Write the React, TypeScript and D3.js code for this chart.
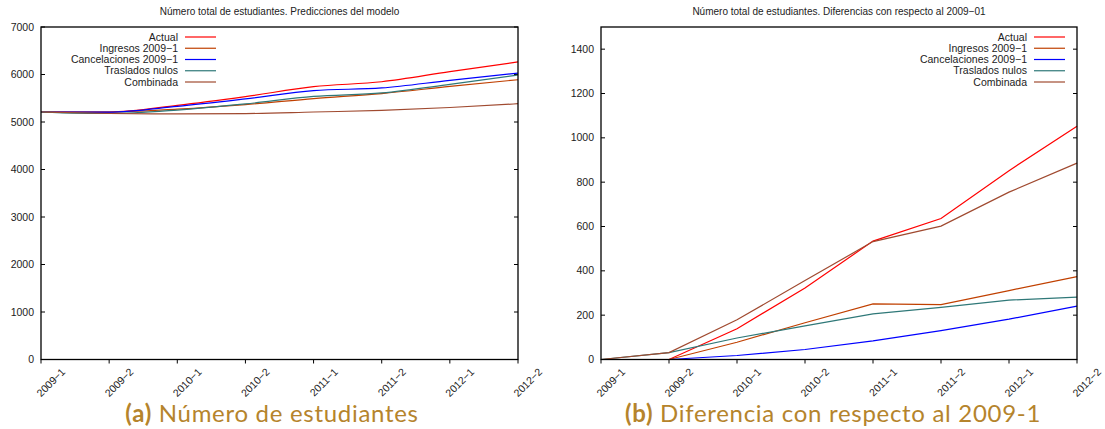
import * as d3 from "d3";
import { useEffect, useRef } from "react";

// categories (x axis)
const periods = ["2009−1", "2009−2", "2010−1", "2010−2", "2011−1", "2011−2", "2012−1", "2012−2"];

// (a) total students
const totActual = [5210, 5210, 5349, 5533, 5744, 5847, 6060, 6264];
const totIngresos = [5210, 5210, 5271, 5367, 5493, 5599, 5749, 5890];
const totCancel = [5210, 5210, 5331, 5488, 5660, 5717, 5878, 6030];
const totTraslados = [5210, 5179, 5252, 5381, 5538, 5612, 5792, 5990];
const totCombinada = [5210, 5179, 5170, 5177, 5210, 5245, 5305, 5385];

// (b) differences vs 2009-1
const difActual = [0, 0, 139, 323, 534, 636, 852, 1052];
const difIngresos = [0, 0, 78, 166, 251, 248, 311, 374];
const difCancel = [0, 0, 18, 45, 84, 130, 182, 241];
const difTraslados = [0, 31, 97, 152, 206, 235, 268, 281];
const difCombinada = [0, 31, 179, 356, 532, 602, 755, 886];

const seriesNames = ["Actual", "Ingresos 2009−1", "Cancelaciones 2009−1", "Traslados nulos", "Combinada"];
const seriesColors = ["#ff0000", "#c04000", "#0000ff", "#2f7878", "#a04a30"];

const ticksA = [0, 1000, 2000, 3000, 4000, 5000, 6000, 7000];
const ticksB = [0, 200, 400, 600, 800, 1000, 1200, 1400];

const font = "'Liberation Sans', Arial, Helvetica, sans-serif";

function drawPanel(g, opts) {
    const { left, right, top, bottom, ymax, ticks, series, title, smooth, legendRight, caption, captionX } = opts;

    const x = d3.scalePoint().domain(periods).range([left, right]);
    const y = d3.scaleLinear().domain([0, ymax]).range([bottom, top]);

    g.append("text")
        .attr("x", (left + right) / 2)
        .attr("y", 15)
        .attr("text-anchor", "middle")
        .attr("font-family", font)
        .attr("font-size", 10)
        .attr("fill", "#222")
        .text(title);

    // y ticks, inward, mirrored on the right
    g.append("g").selectAll("line")
        .data(ticks)
        .join("line")
        .attr("x1", left).attr("x2", left + 4)
        .attr("y1", d => y(d)).attr("y2", d => y(d))
        .attr("stroke", "#000");
    g.append("g").selectAll("line")
        .data(ticks)
        .join("line")
        .attr("x1", right - 4).attr("x2", right)
        .attr("y1", d => y(d)).attr("y2", d => y(d))
        .attr("stroke", "#000");
    g.append("g").selectAll("text")
        .data(ticks)
        .join("text")
        .attr("x", left - 7)
        .attr("y", d => y(d) + 3.5)
        .attr("text-anchor", "end")
        .attr("font-family", font)
        .attr("font-size", 10.5)
        .attr("fill", "#222")
        .text(d => d);

    // x ticks, outward
    g.append("g").selectAll("line")
        .data(periods)
        .join("line")
        .attr("x1", d => x(d)).attr("x2", d => x(d))
        .attr("y1", bottom).attr("y2", bottom + 4)
        .attr("stroke", "#000");
    g.append("g").selectAll("text")
        .data(periods)
        .join("text")
        .attr("transform", d => `translate(${x(d) + 25},${bottom + 13}) rotate(-45)`)
        .attr("text-anchor", "end")
        .attr("font-family", font)
        .attr("font-size", 10.5)
        .attr("fill", "#222")
        .text(d => d);

    // lines
    const line = d3.line()
        .x((d, i) => x(periods[i]))
        .y(d => y(d))
        .curve(smooth ? d3.curveMonotoneX : d3.curveLinear);

    g.append("g").selectAll("path")
        .data(series)
        .join("path")
        .attr("d", d => line(d))
        .attr("fill", "none")
        .attr("stroke", (d, i) => seriesColors[i])
        .attr("stroke-width", 1.2);

    // border
    g.append("rect")
        .attr("x", left).attr("y", top)
        .attr("width", right - left).attr("height", bottom - top)
        .attr("fill", "none")
        .attr("stroke", "#000")
        .attr("stroke-width", 1.3);

    // legend
    const leg = g.append("g");
    seriesNames.forEach((name, i) => {
        const ly = 37 + i * 11.25;
        leg.append("text")
            .attr("x", legendRight)
            .attr("y", ly + 3.5)
            .attr("text-anchor", "end")
            .attr("font-family", font)
            .attr("font-size", 10.5)
            .attr("fill", "#222")
            .text(name);
        leg.append("line")
            .attr("x1", legendRight + 7).attr("x2", legendRight + 38)
            .attr("y1", ly).attr("y2", ly)
            .attr("stroke", seriesColors[i])
            .attr("stroke-width", 1.2);
    });

    // caption
    const cap = g.append("text")
        .attr("x", captionX)
        .attr("y", 422)
        .attr("text-anchor", "middle")
        .attr("font-family", "Lato, 'Open Sans', sans-serif")
        .attr("font-size", 24)
        .attr("letter-spacing", 0.7)
        .attr("fill", "#b5842c");
    cap.append("tspan").attr("font-weight", "bold").text(caption[0]);
    cap.append("tspan").attr("font-weight", 400).text(" " + caption[1]);
}

export default function App() {
    const svgRef = useRef(null);

    useEffect(() => {
        const svg = d3.select(svgRef.current);
        svg.selectAll("*").remove();
        svg.append("rect").attr("width", 1105).attr("height", 429).attr("fill", "#fff");

        drawPanel(svg.append("g"), {
            left: 41, right: 518, top: 27, bottom: 359.5,
            ymax: 7000, ticks: ticksA,
            series: [totActual, totIngresos, totCancel, totTraslados, totCombinada],
            title: "Número total de estudiantes. Predicciones del modelo",
            smooth: true, legendRight: 178,
            caption: ["(a)", "Número de estudiantes"], captionX: 272
        });

        drawPanel(svg.append("g"), {
            left: 601, right: 1077, top: 27, bottom: 359.5,
            ymax: 1500, ticks: ticksB,
            series: [difActual, difIngresos, difCancel, difTraslados, difCombinada],
            title: "Número total de estudiantes. Diferencias con respecto al 2009−01",
            smooth: false, legendRight: 1027,
            caption: ["(b)", "Diferencia con respecto al 2009-1"], captionX: 833
        });
    }, []);

    return (
        <div style={{ position: "absolute", left: 0, top: 0 }}>
            <svg ref={svgRef} width={1105} height={429} style={{ display: "block" }} />
        </div>
    );
}
